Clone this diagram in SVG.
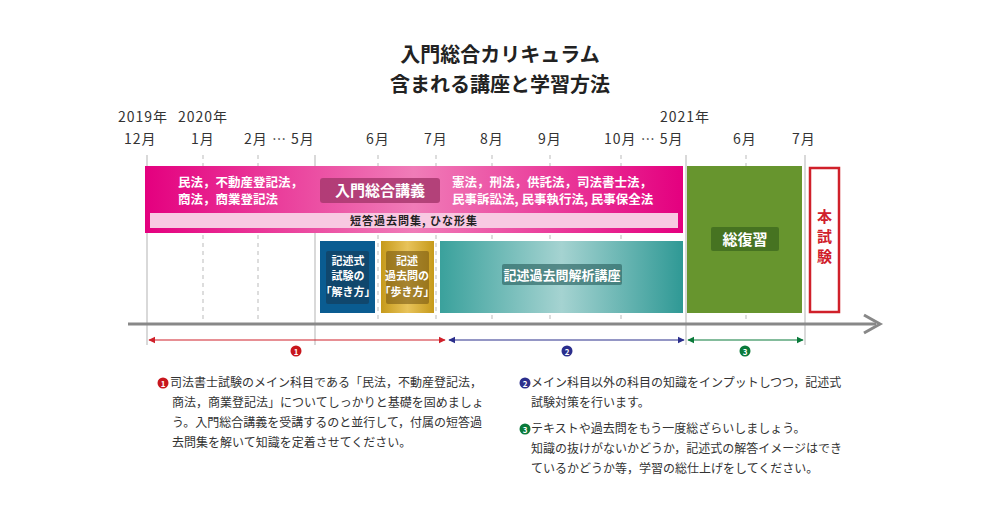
<svg xmlns="http://www.w3.org/2000/svg" width="1000" height="514" viewBox="0 0 1000 514">
<defs>
<style>
text{font-family:"Noto Sans CJK JP","Noto Sans",sans-serif;fill:#333}
.t{font-size:20px;font-weight:bold;fill:#222}
.m{font-size:14px;letter-spacing:1px}
.w{fill:#fff;font-size:12.5px;font-weight:bold}
.d{stroke:#bbb;stroke-width:1;stroke-dasharray:4 4}
.s{stroke:#ccc;stroke-width:1.5}
.b{font-size:12px}
</style>
<linearGradient id="pk" x1="0" x2="1"><stop offset="0" stop-color="#e4007f"/><stop offset="0.5" stop-color="#f07cb8"/><stop offset="1" stop-color="#e4007f"/></linearGradient>
<linearGradient id="tl" x1="0" x2="1"><stop offset="0" stop-color="#3aa19c"/><stop offset="0.5" stop-color="#a5d3d1"/><stop offset="1" stop-color="#2f9995"/></linearGradient>
<linearGradient id="gd" x1="0" x2="1"><stop offset="0" stop-color="#c69a1b"/><stop offset="0.5" stop-color="#e8c35a"/><stop offset="1" stop-color="#c69a1b"/></linearGradient>
<marker id="ar" viewBox="0 0 10 10" refX="9" refY="5" markerWidth="6" markerHeight="6" orient="auto-start-reverse"><path d="M0,0L10,5L0,10z" fill="#d0202a"/></marker>
<marker id="ab" viewBox="0 0 10 10" refX="9" refY="5" markerWidth="6" markerHeight="6" orient="auto-start-reverse"><path d="M0,0L10,5L0,10z" fill="#2b2e8c"/></marker>
<marker id="ag" viewBox="0 0 10 10" refX="9" refY="5" markerWidth="6" markerHeight="6" orient="auto-start-reverse"><path d="M0,0L10,5L0,10z" fill="#0a7a3a"/></marker>
</defs>
<rect width="1000" height="514" fill="#fff"/>
<g id="title">
<text class="t" x="500" y="62" text-anchor="middle">入門総合カリキュラム</text>
<text class="t" x="500" y="92" text-anchor="middle">含まれる講座と学習方法</text>
</g>
<g id="months">
<text x="118" y="122" class="m">2019年</text><text x="178" y="122" class="m">2020年</text><text x="660" y="122" class="m">2021年</text>
<text x="124" y="144" class="m">12月</text><text x="191" y="144" class="m">1月</text><text x="244" y="144" class="m">2月 … 5月</text>
<text x="366" y="144" class="m">6月</text><text x="424" y="144" class="m">7月</text><text x="480" y="144" class="m">8月</text><text x="538" y="144" class="m">9月</text>
<text x="604" y="144" class="m">10月 … 5月</text><text x="733" y="144" class="m">6月</text><text x="792" y="144" class="m">7月</text>
</g>
<g id="grid">
<line class="s" x1="147" y1="155" x2="147" y2="345"/>
<line class="d" x1="203" y1="155" x2="203" y2="320"/>
<line class="d" x1="258" y1="155" x2="258" y2="320"/>
<line class="s" x1="315" y1="155" x2="315" y2="345"/>
<line class="d" x1="378" y1="155" x2="378" y2="320"/>
<line class="d" x1="436" y1="155" x2="436" y2="320"/>
<line class="d" x1="492" y1="155" x2="492" y2="320"/>
<line class="d" x1="550" y1="155" x2="550" y2="320"/>
<line class="d" x1="621" y1="155" x2="621" y2="320"/>
<line class="s" x1="686" y1="155" x2="686" y2="345"/>
<line class="d" x1="746" y1="155" x2="746" y2="320"/>
<line class="s" x1="805" y1="155" x2="805" y2="345"/>
</g>
<g id="intro">
<rect x="145" y="166" width="538" height="67" fill="url(#pk)"/>
<rect x="150" y="213" width="528" height="15" fill="#f8c9e2"/>
<rect x="320" y="178" width="120" height="25" rx="3" fill="#a8386e" opacity="0.85"/>
<text x="380" y="196" text-anchor="middle" style="fill:#fff;font-size:15px;font-weight:bold">入門総合講義</text>
<text class="w" x="178" y="187">民法，不動産登記法，</text>
<text class="w" x="178" y="204">商法，商業登記法</text>
<text class="w" x="452" y="187">憲法，刑法，供託法，司法書士法，</text>
<text class="w" x="452" y="204">民事訴訟法, 民事執行法, 民事保全法</text>
<text x="414" y="225" text-anchor="middle" style="font-size:11px;font-weight:bold;fill:#222;letter-spacing:1px">短答過去問集, ひな形集</text>
</g>
<g id="kaki">
<rect x="320" y="241" width="55" height="72" fill="#0a5c91"/>
<rect x="326" y="251" width="43" height="53" rx="2" fill="#123e5e" opacity="0.7"/>
<text class="w" x="348" y="265" text-anchor="middle" style="font-size:11px">記述式</text>
<text class="w" x="348" y="280" text-anchor="middle" style="font-size:11px">試験の</text>
<text class="w" x="348" y="296" text-anchor="middle" style="font-size:11px">「解き方」</text>
</g>
<g id="aruki">
<rect x="381" y="241" width="53" height="72" fill="url(#gd)"/>
<rect x="386" y="251" width="43" height="53" rx="2" fill="#7a5a14" opacity="0.6"/>
<text class="w" x="407" y="265" text-anchor="middle" style="font-size:11px">記述</text>
<text class="w" x="407" y="280" text-anchor="middle" style="font-size:11px">過去問の</text>
<text class="w" x="407" y="296" text-anchor="middle" style="font-size:11px">「歩き方」</text>
</g>
<g id="kaiseki">
<rect x="440" y="241" width="243" height="72" fill="url(#tl)"/>
<rect x="502" y="264" width="120" height="21" rx="2" fill="#336b69" opacity="0.7"/>
<text class="w" x="562" y="280" text-anchor="middle" style="font-size:13px">記述過去問解析講座</text>
</g>
<g id="fukushu">
<rect x="687" y="166" width="115" height="147" fill="#67952e"/>
<rect x="711" y="227" width="68" height="24" rx="2" fill="#3f6a1e" opacity="0.8"/>
<text x="745" y="245" text-anchor="middle" style="fill:#fff;font-size:15px;font-weight:bold">総復習</text>
</g>
<g id="honshiken">
<rect x="810" y="168" width="29" height="144" fill="#fff" stroke="#d0202a" stroke-width="2.5"/>
<text x="824.5" y="222" text-anchor="middle" style="fill:#d0202a;font-size:15px;font-weight:bold">本</text>
<text x="824.5" y="242" text-anchor="middle" style="fill:#d0202a;font-size:15px;font-weight:bold">試</text>
<text x="824.5" y="262" text-anchor="middle" style="fill:#d0202a;font-size:15px;font-weight:bold">験</text>
</g>
<g id="connectors">
<line x1="128" y1="324" x2="876" y2="324" stroke="#888" stroke-width="3"/>
<path d="M864,315L880,324L864,333" fill="none" stroke="#888" stroke-width="3"/>
<line x1="149" y1="340" x2="445" y2="340" stroke="#d0202a" stroke-width="1.2" marker-start="url(#ar)" marker-end="url(#ar)"/>
<line x1="449" y1="340" x2="684" y2="340" stroke="#2b2e8c" stroke-width="1.2" marker-start="url(#ab)" marker-end="url(#ab)"/>
<line x1="688" y1="340" x2="803" y2="340" stroke="#0a7a3a" stroke-width="1.2" marker-start="url(#ag)" marker-end="url(#ag)"/>
</g>
<g id="nums">
<circle cx="296" cy="351" r="5.5" fill="#c8161d"/><text x="296" y="354.5" text-anchor="middle" style="fill:#fff;font-size:8px;font-weight:bold">1</text>
<circle cx="567" cy="351" r="5.5" fill="#2b2e8c"/><text x="567" y="354.5" text-anchor="middle" style="fill:#fff;font-size:8px;font-weight:bold">2</text>
<circle cx="745" cy="351" r="5.5" fill="#0a7a3a"/><text x="745" y="354.5" text-anchor="middle" style="fill:#fff;font-size:8px;font-weight:bold">3</text>
</g>
<g id="notes">
<circle cx="163" cy="383" r="5.5" fill="#c8161d"/><text x="163" y="386.5" text-anchor="middle" style="fill:#fff;font-size:8px;font-weight:bold">1</text>
<text class="b" x="170" y="387">司法書士試験のメイン科目である「民法，不動産登記法，</text>
<text class="b" x="172" y="407">商法，商業登記法」についてしっかりと基礎を固めましょ</text>
<text class="b" x="172" y="427">う。入門総合講義を受講するのと並行して，付属の短答過</text>
<text class="b" x="172" y="447">去問集を解いて知識を定着させてください。</text>
<circle cx="525" cy="383" r="5.5" fill="#2b2e8c"/><text x="525" y="386.5" text-anchor="middle" style="fill:#fff;font-size:8px;font-weight:bold">2</text>
<text class="b" x="531" y="387">メイン科目以外の科目の知識をインプットしつつ，記述式</text>
<text class="b" x="531" y="407">試験対策を行います。</text>
<circle cx="525" cy="429" r="5.5" fill="#0a7a3a"/><text x="525" y="432.5" text-anchor="middle" style="fill:#fff;font-size:8px;font-weight:bold">3</text>
<text class="b" x="531" y="433">テキストや過去問をもう一度総ざらいしましょう。</text>
<text class="b" x="531" y="453">知識の抜けがないかどうか，記述式の解答イメージはでき</text>
<text class="b" x="531" y="473">ているかどうか等，学習の総仕上げをしてください。</text>
</g>
</svg>
